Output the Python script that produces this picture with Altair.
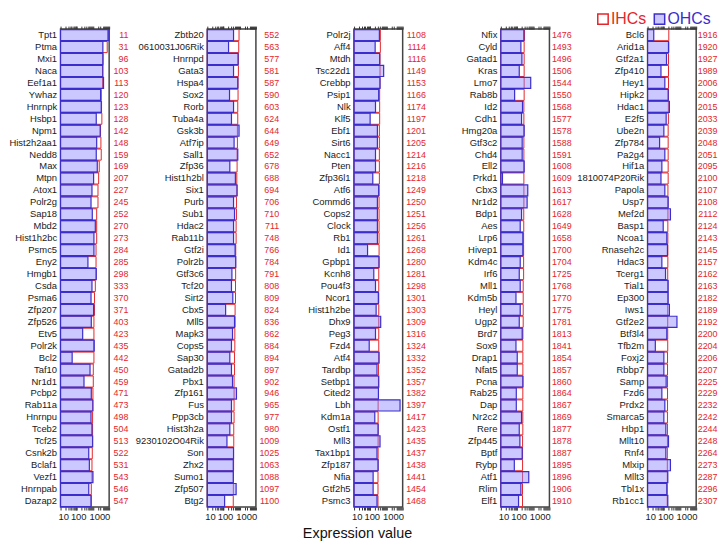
import altair as alt
import pandas as pd

genes = [
    "Tpt1", "Ptma", "Mxi1", "Naca", "Eef1a1", "Ywhaz", "Hnrnpk", "Hsbp1", "Npm1", "Hist2h2aa1",
    "Nedd8", "Max", "Mtpn", "Atox1", "Polr2g", "Sap18", "Mbd2", "Hist1h2bc", "Psmc5", "Eny2",
    "Hmgb1", "Csda", "Psma6", "Zfp207", "Zfp526", "Etv5", "Polr2k", "Bcl2", "Taf10", "Nr1d1",
    "Pcbp2", "Rab11a", "Hnrnpu", "Tceb2", "Tcf25", "Csnk2b", "Bclaf1", "Vezf1", "Hnrnpab", "Dazap2",
    "Zbtb20", "0610031J06Rik", "Hnrnpd", "Gata3", "Hspa4", "Sox2", "Rorb", "Tuba4a", "Gsk3b", "Atf7ip",
    "Sall1", "Zfp36", "Hist1h2bl", "Six1", "Purb", "Sub1", "Hdac2", "Rab11b", "Gtf2i", "Polr2b",
    "Gtf3c6", "Tcf20", "Sirt2", "Cbx5", "Mll5", "Mapk3", "Cops5", "Sap30", "Gatad2b", "Pbx1",
    "Zfp161", "Fus", "Ppp3cb", "Hist3h2a", "9230102O04Rik", "Son", "Zhx2", "Sumo1", "Zfp507", "Btg2",
    "Polr2j", "Aff4", "Mtdh", "Tsc22d1", "Crebbp", "Psip1", "Nlk", "Klf5", "Ebf1", "Sirt6",
    "Nacc1", "Pten", "Zfp36l1", "Atf6", "Commd6", "Cops2", "Clock", "Rb1", "Id1", "Gpbp1",
    "Kcnh8", "Pou4f3", "Ncor1", "Hist1h2be", "Dhx9", "Peg3", "Fzd4", "Atf4", "Tardbp", "Setbp1",
    "Cited2", "Lbh", "Kdm1a", "Ostf1", "Mll3", "Tax1bp1", "Zfp187", "Nfia", "Gtf2h5", "Psmc3",
    "Nfix", "Cyld", "Gatad1", "Kras", "Lmo7", "Rab8b", "Id2", "Cdh1", "Hmg20a", "Gtf3c2",
    "Chd4", "Ell2", "Prkd1", "Cbx3", "Nr1d2", "Bdp1", "Aes", "Lrp6", "Hivep1", "Kdm4c",
    "Irf6", "Mll1", "Kdm5b", "Heyl", "Ugp2", "Brd7", "Sox9", "Drap1", "Nfat5", "Pcna",
    "Rab25", "Dap", "Nr2c2", "Rere", "Zfp445", "Bptf", "Rybp", "Atf1", "Rlim", "Elf1",
    "Bcl6", "Arid1a", "Gtf2a1", "Zfp410", "Hey1", "Hipk2", "Hdac1", "E2f5", "Ube2n", "Zfp784",
    "Pa2g4", "Hif1a", "1810074P20Rik", "Papola", "Usp7", "Mef2d", "Basp1", "Ncoa1", "Rnaseh2c", "Hdac3",
    "Tcerg1", "Tial1", "Ep300", "Iws1", "Gtf2e2", "Btf3l4", "Tfb2m", "Foxj2", "Rbbp7", "Samp",
    "Fzd6", "Prdx2", "Smarca5", "Hbp1", "Mllt10", "Rnf4", "Mlxip", "Mllt3", "Tbl1x", "Rb1cc1",
]

ranks = [
    11, 31, 96, 103, 113, 120, 123, 128, 142, 148, 159, 169, 207, 227, 245, 252, 270, 273, 284, 285,
    298, 333, 370, 371, 403, 423, 435, 442, 450, 459, 471, 473, 498, 504, 513, 522, 531, 543, 546, 547,
    552, 563, 577, 581, 587, 590, 603, 624, 644, 649, 652, 678, 688, 694, 706, 710, 711, 748, 766, 784,
    791, 808, 809, 824, 836, 862, 884, 894, 897, 902, 946, 965, 977, 980, 1009, 1025, 1063, 1088, 1097, 1100,
    1108, 1114, 1116, 1149, 1153, 1166, 1174, 1197, 1201, 1205, 1214, 1216, 1218, 1249, 1250, 1251, 1256, 1261, 1268, 1280,
    1281, 1298, 1301, 1303, 1309, 1316, 1324, 1332, 1352, 1357, 1382, 1397, 1417, 1423, 1435, 1437, 1438, 1441, 1454, 1468,
    1476, 1493, 1496, 1506, 1544, 1550, 1568, 1577, 1578, 1588, 1591, 1608, 1609, 1613, 1617, 1628, 1649, 1658, 1700, 1704,
    1725, 1768, 1770, 1775, 1781, 1813, 1841, 1854, 1857, 1860, 1864, 1867, 1869, 1877, 1878, 1887, 1895, 1896, 1906, 1910,
    1916, 1920, 1927, 1989, 2006, 2009, 2015, 2033, 2039, 2048, 2051, 2095, 2100, 2107, 2108, 2112, 2124, 2143, 2145, 2157,
    2162, 2163, 2182, 2189, 2192, 2200, 2204, 2206, 2207, 2225, 2229, 2232, 2242, 2244, 2248, 2264, 2273, 2287, 2296, 2307,
]

ihc_values = [
    8000, 7600, 4200, 3900, 3900, 3250, 3400, 3550, 2950, 3100, 3250, 2450, 2250, 2050, 2050, 1700, 1700, 1700, 1550, 1550,
    1550, 1400, 1250, 1250, 1150, 1150, 1100, 1150, 1050, 1050, 1000, 950, 950, 950, 930, 910, 870, 870, 790, 790,
    910, 870, 830, 830, 790, 790, 760, 760, 720, 720, 690, 690, 660, 660, 630, 630, 600, 600, 570, 560,
    560, 550, 550, 520, 520, 500, 500, 480, 480, 450, 450, 450, 450, 430, 430, 416, 420, 410, 405, 400,
    420, 420, 400, 400, 395, 380, 380, 380, 365, 365, 365, 365, 365, 350, 350, 350, 350, 350, 350, 335,
    335, 335, 335, 335, 335, 335, 335, 330, 320, 320, 320, 305, 305, 305, 305, 305, 300, 300, 300, 300,
    290, 275, 275, 275, 275, 275, 265, 265, 265, 265, 265, 265, 265, 265, 265, 260, 260, 255, 255, 255,
    255, 240, 240, 240, 240, 230, 230, 230, 230, 228, 228, 228, 228, 228, 220, 220, 220, 220, 218, 218,
    204, 204, 195, 195, 195, 195, 192, 192, 186, 186, 186, 186, 186, 180, 180, 180, 178, 178, 178, 178,
    175, 175, 175, 175, 175, 175, 175, 170, 170, 170, 170, 170, 168, 168, 168, 165, 165, 165, 163, 163,
]

ohc_values = [
    9500, 4100, 4100, 4100, 4500, 2970, 3250, 1600, 2800, 1700, 1600, 1850, 1100, 870, 760, 910, 1400, 1150, 1150, 490,
    1600, 870, 760, 1100, 790, 232, 1200, 52, 660, 280, 790, 1000, 760, 870, 960, 550, 600, 1000, 550, 760,
    416, 205, 790, 416, 760, 235, 416, 310, 910, 450, 760, 245, 540, 690, 416, 480, 416, 416, 520, 570,
    330, 310, 375, 135, 480, 360, 310, 245, 310, 360, 630, 310, 310, 245, 163, 416, 400, 400, 600, 117,
    365, 200, 380, 670, 400, 330, 210, 98, 275, 275, 210, 210, 143, 330, 275, 275, 275, 275, 68, 350,
    165, 210, 315, 230, 440, 210, 86, 350, 260, 335, 320, 6900, 190, 305, 400, 260, 305, 150, 150, 260,
    263, 173, 200, 137, 700, 71, 218, 190, 275, 208, 208, 275, 12.6, 460, 420, 190, 157, 228, 228, 157,
    137, 157, 86, 157, 137, 208, 86, 103, 103, 230, 90, 90, 190, 137, 150, 208, 68, 530, 173, 124,
    24, 195, 147, 67, 116, 186, 222, 140, 101, 55, 116, 76, 67, 116, 186, 257, 92, 153, 168, 76,
    128, 186, 186, 222, 650, 153, 30, 101, 101, 140, 76, 116, 101, 134, 195, 134, 257, 177, 153, 177,
]

legend_labels = ["IHCs", "OHCs"]
x_tick_values = [m * 10 ** e for e in (1, 2, 3) for m in range(1, 10)] + [10000]

assert len(genes) == len(ranks) == len(ihc_values) == len(ohc_values) == 200

RED = "#E3262B"
BLUE = "#3B2ECC"
FILL = "#8C84FF"
FONT = "Liberation Sans"

df = pd.DataFrame({"gene": genes, "rank": ranks, "IHCs": ihc_values, "OHCs": ohc_values})
df["key"] = df["gene"] + "|" + df["rank"].astype(str)
df["panel"] = df.index // 40

W, H = 49, 482
rank_pad = [19, 23, 23, 22, 21]
label_expr = "datum.value == 10 ? '10' : datum.value == 100 ? '100' : datum.value == 1000 ? '1000' : ''"
label_offset = {
    "condition": [
        {"test": "datum.value == 10", "value": -2.5},
        {"test": "datum.value == 100", "value": 1.5},
        {"test": "datum.value == 1000", "value": 6.5},
    ],
    "value": 0,
}

panels = []
for p in range(5):
    d = df[df["panel"] == p].reset_index(drop=True)
    order = list(d["key"])
    xscale = alt.Scale(type="log", domain=[10, 10000], clamp=True)
    yscale = alt.Scale(paddingInner=0.07, paddingOuter=0.04)
    base = alt.Chart(d)

    bottom_kwargs = dict(
        orient="bottom", values=x_tick_values, labelExpr=label_expr, labelOverlap=False,
        tickSize=3, grid=False, domain=False, labelFontSize=9.5, labelPadding=2,
        labelOffset=label_offset,
    )
    if p == 2:
        bottom_kwargs.update(title="Expression value", titleX=3, titleFontSize=14.5,
                             titleFont=FONT, titleFontWeight="normal", titlePadding=5,
                             titleColor="#111")
    else:
        bottom_kwargs.update(title=None)

    ihc_layer = base.mark_bar(fill="white", stroke=RED, strokeWidth=1).encode(
        x=alt.X("IHCs:Q", scale=xscale, axis=alt.Axis(**bottom_kwargs)),
        x2=alt.value(0),
        y=alt.Y("key:N", sort=order, scale=yscale,
                axis=alt.Axis(orient="left", labelExpr="split(datum.label, '|')[0]",
                              ticks=False, domain=False, title=None, labelPadding=4,
                              labelFontSize=9.5, labelColor="#1a1a1a")),
    )
    ohc_layer = base.mark_bar(fill=FILL, fillOpacity=0.45, stroke=BLUE, strokeWidth=1.2).encode(
        x=alt.X("OHCs:Q", scale=xscale,
                axis=alt.Axis(orient="top", values=x_tick_values, labels=False, tickSize=3,
                              grid=False, domain=False, title=None)),
        x2=alt.value(0),
        y=alt.Y("key:N", sort=order, scale=yscale,
                axis=alt.Axis(orient="right", labelExpr="split(datum.label, '|')[1]",
                              labelColor=RED, labelAlign="right", labelPadding=rank_pad[p],
                              ticks=False, domain=False, title=None, labelFontSize=9)),
    )
    layers = [ihc_layer, ohc_layer]
    if p == 4:
        leg = alt.Chart(pd.DataFrame({"series": legend_labels}))
        layers += [
            leg.transform_filter("datum.series == 'IHCs'").mark_square(
                size=110, fill="white", stroke=RED, strokeWidth=1.5, opacity=1
            ).encode(x=alt.value(-45), y=alt.value(-10)),
            leg.transform_filter("datum.series == 'IHCs'").mark_text(
                align="left", baseline="middle", fontSize=16, font=FONT, color=RED
            ).encode(x=alt.value(-37), y=alt.value(-10), text="series:N"),
            leg.transform_filter("datum.series == 'OHCs'").mark_square(
                size=110, fill=FILL, fillOpacity=0.45, stroke=BLUE, strokeWidth=1.5, opacity=1
            ).encode(x=alt.value(12), y=alt.value(-10)),
            leg.transform_filter("datum.series == 'OHCs'").mark_text(
                align="left", baseline="middle", fontSize=16, font=FONT, color=BLUE
            ).encode(x=alt.value(20), y=alt.value(-10), text="series:N"),
        ]
    panel = alt.layer(*layers).resolve_axis(x="independent", y="independent").properties(width=W, height=H)
    panels.append(panel)

chart = (
    alt.hconcat(*panels, spacing=99, bounds="flush")
    .properties(padding={"left": 0, "top": 0, "right": 0, "bottom": 0})
    .configure_view(stroke="#444", strokeWidth=1.5)
    .configure_axis(labelFont=FONT, tickColor="#333", labelColor="#1a1a1a")
)

chart.save("out.html", embed_options={"renderer": "svg", "actions": False})
